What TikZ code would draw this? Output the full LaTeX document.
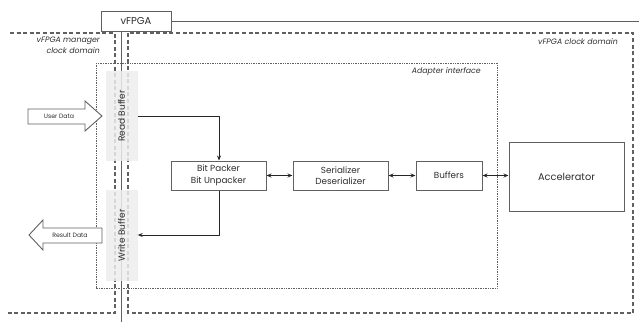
\documentclass[tikz,border=0pt]{standalone}
\usepackage{fontspec}
\setmainfont{Poppins}
\usetikzlibrary{arrows.meta}
\definecolor{ln}{HTML}{606060}
\definecolor{tx}{HTML}{2E2E2E}
\definecolor{bf}{HTML}{EDEDED}
\tikzset{
  box/.style={draw=ln, line width=1pt, fill=white, text=tx, align=center, inner sep=0pt, font=\fontsize{8.8}{11.5}\selectfont},
  bufbox/.style={fill=bf, fill opacity=0.85, text opacity=1, text=tx, inner sep=0pt},
  buftext/.style={text=tx, rotate=90, inner sep=0pt, font=\fontsize{9}{10}\selectfont},
  dom/.style={draw=ln, line width=1.2pt, dash pattern=on 4pt off 2.6pt},
  conn/.style={draw=black!85, line width=0.8pt, -{Stealth[length=5pt,width=4pt]}},
  dconn/.style={draw=black!85, line width=0.8pt, {Stealth[length=5pt,width=4pt]}-{Stealth[length=5pt,width=4pt]}},
  lbl/.style={text=tx, inner sep=0pt, font=\fontsize{7.8}{10.5}\selectfont\itshape},
  barrow/.style={draw=ln, line width=0.9pt, fill=white},
  small/.style={text=tx, inner sep=0pt, font=\fontsize{6.2}{8}\selectfont}
}
\begin{document}
\begin{tikzpicture}[x=1pt,y=-1pt]
\useasboundingbox (0,0) rectangle (639,322);
% adapter interface
\draw[ln, line width=0.7pt, densely dotted] (96,63) rectangle (497,288);
\node[lbl, anchor=east] (adlbl) at (481,72) {Adapter interface};
% domains
\draw[dom] (10,33) -- (115,33) -- (115,313) -- (8,313);
\draw[dom] (128,33) rectangle (633,313);
\node[lbl, anchor=east] (vcd) at (618,42) {vFPGA clock domain};
\node[lbl, anchor=north east, align=right] (vmcd) at (100,37) {vFPGA manager\\clock domain};
% vFPGA
\node[box, minimum width=70pt, minimum height=20pt, font=\fontsize{10}{11}\selectfont] (vf) at (136,21) {vFPGA};
\coordinate (vfend) at (639,21);
\coordinate (vbot) at (121,322);
\draw[ln, line width=1pt] (vf.east) -- (vfend);
\draw[ln, line width=1pt] (vf.south -| vbot) -- (vbot);
% buffers (read/write)
\node[bufbox, minimum width=32pt, minimum height=90pt] (rb) at (121.5,116) {};
\node[buftext] (rbt) at (rb.center) {Read Buffer};
\node[bufbox, minimum width=32pt, minimum height=91pt] (wb) at (121.5,235.5) {};
\node[buftext] (wbt) at (wb.center) {Write Buffer};
% block arrows
\draw[barrow] (28,109) -- (85,109) -- (85,101) -- (102,116) -- (85,131) -- (85,124) -- (28,124) -- cycle;
\node[small] (ud) at (59,116.5) {User Data};
\draw[barrow] (102,228) -- (43,228) -- (43,220) -- (29,235) -- (43,250) -- (43,243) -- (102,243) -- cycle;
\node[small] (rd) at (70,235.5) {Result Data};
% main blocks
\node[box, minimum width=95pt, minimum height=29pt] (bp) at (218.5,175.5) {Bit Packer\\Bit Unpacker};
\node[box, minimum width=95pt, minimum height=29pt] (sd) at (340.5,175.5) {Serializer\\Deserializer};
\node[box, minimum width=66pt, minimum height=29pt] (bu) at (449,175.5) {Buffers};
\node[box, minimum width=115pt, minimum height=69pt, font=\fontsize{9.8}{11}\selectfont] (ac) at (566.5,176.5) {Accelerator};
% connectors
\coordinate (c1) at (219,116);
\coordinate (c2) at (219,235);
\draw[conn] (rb.east |- c1) -- (c1) -- (bp.north -| c1);
\draw[conn] (bp.south -| c2) -- (c2) -- (wb.east |- c2);
\draw[dconn] (bp.east) -- (sd.west);
\draw[dconn] (sd.east) -- (bu.west);
\draw[dconn] (bu.east) -- (ac.west |- bu.east);
\end{tikzpicture}
\end{document}
